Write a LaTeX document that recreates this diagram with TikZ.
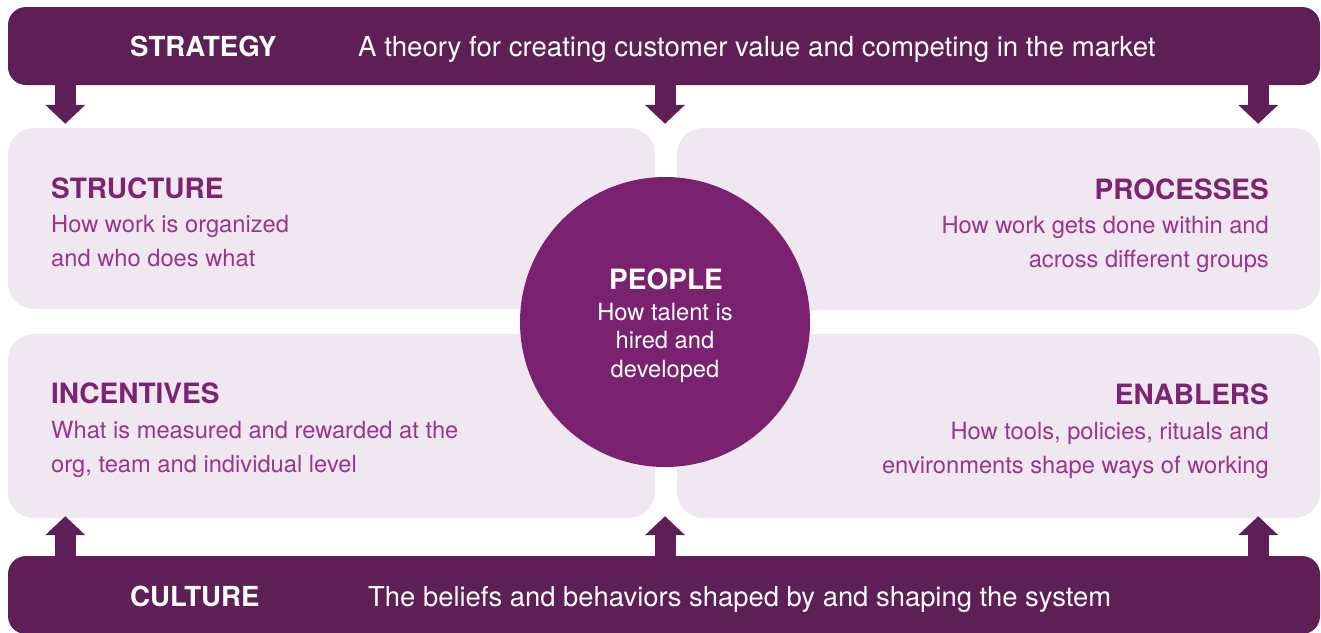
\documentclass[tikz,border=0pt]{standalone}
\usepackage{fontspec}
\setmainfont{TeX Gyre Heros}
\usetikzlibrary{arrows.meta, positioning}

\definecolor{barpurple}{HTML}{5E1F56}
\definecolor{hubpurple}{HTML}{7A2270}
\definecolor{panelfill}{HTML}{F0E8F0}
\definecolor{headpurple}{HTML}{7E2374}
\definecolor{bodypurple}{HTML}{9A358F}

\begin{document}
\begin{tikzpicture}[x=1pt, y=-1pt,
    bar/.style={rectangle, fill=barpurple, rounded corners=18pt, inner sep=0pt},
    panel/.style={rectangle, fill=panelfill, rounded corners=26pt, inner sep=0pt},
    hub/.style={circle, fill=hubpurple, minimum size=290pt, inner sep=0pt},
    bartitle/.style={font=\fontsize{27.6}{32}\selectfont\bfseries, text=white, inner sep=0pt},
    bartext/.style={font=\fontsize{27.6}{32}\selectfont, text=white, inner sep=0pt},
    heading/.style={font=\fontsize{28}{34}\selectfont\bfseries, text=headpurple, inner sep=0pt},
    desc/.style={font=\fontsize{23.7}{34}\selectfont, text=bodypurple, inner sep=0pt},
    blockarrow/.style={barpurple, line width=21pt, -{Triangle[width=39pt, length=19pt]}}
]
\useasboundingbox (0,0) rectangle (1321,632);

% top and bottom bars
\node[bar, minimum width=1312pt, minimum height=78pt] (strategy) at (664,46) {};
\node[bar, minimum width=1312pt, minimum height=78pt] (culture) at (664,595) {};

\node[bartitle, anchor=base west] (strategy-t) at (130,56) {STRATEGY};
\node[bartext, anchor=base west] (strategy-d) at (358,56) {A theory for creating customer value and competing in the market};
\node[bartitle, anchor=base west] (culture-t) at (130,606) {CULTURE};
\node[bartext, anchor=base west, font=\fontsize{27.4}{32}\selectfont] (culture-d) at (368,606) {The beliefs and behaviors shaped by and shaping the system};

% the four panels
\node[panel, minimum width=647pt, minimum height=181pt] (structure) at (331.5,218.5) {};
\node[panel, minimum width=643pt, minimum height=182pt] (processes) at (998.5,219) {};
\node[panel, minimum width=647pt, minimum height=184pt] (incentives) at (331.5,426) {};
\node[panel, minimum width=643pt, minimum height=184pt] (enablers) at (998.5,426) {};

% base of a two-line text is its last line
\node[heading, anchor=base west] (structure-t) at (51,198) {STRUCTURE};
\node[desc, anchor=base west, align=left] (structure-d) at (51,266) {How work is organized\\and who does what};

\node[heading, anchor=base east] (processes-t) at (1269,199) {PROCESSES};
\node[desc, anchor=base east, align=right] (processes-d) at (1269,267) {How work gets done within and\\across different groups};

\node[heading, anchor=base west] (incentives-t) at (51,403) {INCENTIVES};
\node[desc, anchor=base west, align=left] (incentives-d) at (51,472) {What is measured and rewarded at the\\org, team and individual level};

\node[heading, anchor=base east] (enablers-t) at (1269,404) {ENABLERS};
\node[desc, anchor=base east, align=right] (enablers-d) at (1269,473) {How tools, policies, rituals and\\environments shape ways of working};

% people in the middle
\node[hub] (people) at (665,322) {};
\node[heading, text=white, anchor=base] (people-t) at (666,289) {PEOPLE};
\node[desc, text=white, anchor=base, align=center, font=\fontsize{23.7}{28.5}\selectfont] (people-d) at (665,377) {How talent is\\hired and\\developed};

% arrows down from strategy
\draw[blockarrow, shorten >=4pt] ([xshift=57.5pt]strategy.south west) -- ([xshift=57.5pt]structure.north west);
\draw[blockarrow, shorten >=4pt] (strategy.south -| people.north) -- (structure.north -| people.north);
\draw[blockarrow, shorten >=4pt] ([xshift=-62pt]strategy.south east) -- ([xshift=-62pt]processes.north east);

% arrows up from culture
\draw[blockarrow, shorten >=-2pt] ([xshift=57.5pt]culture.north west) -- ([xshift=57.5pt]incentives.south west);
\draw[blockarrow, shorten >=-2pt] (culture.north -| people.south) -- (incentives.south -| people.south);
\draw[blockarrow, shorten >=-2pt] ([xshift=-62pt]culture.north east) -- ([xshift=-62pt]enablers.south east);
\end{tikzpicture}
\end{document}
